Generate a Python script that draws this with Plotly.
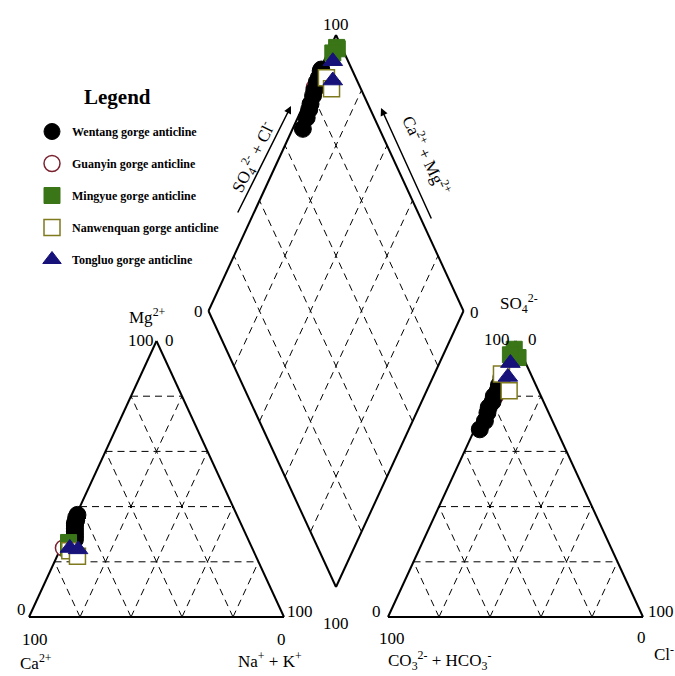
import plotly.graph_objects as go

# ---------------- data (% meq/L) ----------------
series_names = ["Wentang gorge anticline", "Guanyin gorge anticline", "Mingyue gorge anticline",
                "Nanwenquan gorge anticline", "Tongluo gorge anticline"]

# cations: Na+ + K+ and Mg2+ (Ca2+ = remainder)
wentang_nak = [0.5, 0.5, 1.0, 1.0, 1.5, 2.0, 2.5, 3.0, 3.5, 4.0]
wentang_mg = [37.0, 36.0, 35.0, 34.0, 33.0, 32.0, 31.0, 30.0, 29.0, 28.0]
guanyin_nak = [1.0]
guanyin_mg = [25.0]
mingyue_nak = [2.5, 3.0, 2.0]
mingyue_mg = [26.0, 25.0, 27.0]
nanwenquan_nak = [4.0, 8.0]
nanwenquan_mg = [24.0, 22.0]
tongluo_nak = [3.5, 7.0]
tongluo_mg = [25.0, 24.5]

# anions: SO4 2- and Cl- (CO3 2- + HCO3- = remainder)
wentang_so4 = [87.0, 86.0, 84.0, 82.0, 80.0, 78.0, 76.0, 74.0, 71.0, 68.0]
wentang_cl = [1.0, 1.5, 1.5, 2.0, 1.5, 2.0, 1.5, 2.0, 2.5, 2.0]
guanyin_so4 = [80.0]
guanyin_cl = [2.0]
mingyue_so4 = [97.0, 94.0, 95.0]
mingyue_cl = [1.0, 4.0, 0.5]
nanwenquan_so4 = [88.0, 82.0]
nanwenquan_cl = [0.5, 6.5]
tongluo_so4 = [92.0, 87.0]
tongluo_cl = [2.0, 3.5]

# ---------------- geometry (pixel-like data units) ----------------
BASE_Y = 617
H = 276
SIDE = 255
CAT_X0 = 29
AN_X0 = 388
DIA_B = (336, 587)
FONT = "Liberation Serif"


def tri_pt(x0, p_right, p_top):
    return x0 + SIDE * (p_right + p_top / 2.0), BASE_Y - H * p_top


def dia_pt(cm, s):
    return (DIA_B[0] - cm * SIDE / 2.0 + s * SIDE / 2.0,
            DIA_B[1] - cm * H - s * H)


def piper_xy(nak, mg, so4, cl):
    xs, ys = [], []
    for n, m in zip(nak, mg):
        x, y = tri_pt(CAT_X0, n / 100.0, m / 100.0)
        xs.append(x); ys.append(y)
    for s, c in zip(so4, cl):
        x, y = tri_pt(AN_X0, c / 100.0, s / 100.0)
        xs.append(x); ys.append(y)
    for n, s, c in zip(nak, so4, cl):
        x, y = dia_pt(1 - n / 100.0, (s + c) / 100.0)
        xs.append(x); ys.append(y)
    return xs, ys


fig = go.Figure()

styles = [
    dict(symbol="circle", size=17, color="black", line=dict(color="black", width=1)),
    dict(symbol="circle", size=16, color="white", line=dict(color="#7a2230", width=1.5)),
    dict(symbol="square", size=16, color="#3a7517", line=dict(color="#3a7517", width=1)),
    dict(symbol="square", size=16, color="white", line=dict(color="#7f7a1e", width=1.5)),
    dict(symbol="triangle-up", size=17, color="#16127a", line=dict(color="#16127a", width=1)),
]
datasets = [
    (wentang_nak, wentang_mg, wentang_so4, wentang_cl),
    (guanyin_nak, guanyin_mg, guanyin_so4, guanyin_cl),
    (mingyue_nak, mingyue_mg, mingyue_so4, mingyue_cl),
    (nanwenquan_nak, nanwenquan_mg, nanwenquan_so4, nanwenquan_cl),
    (tongluo_nak, tongluo_mg, tongluo_so4, tongluo_cl),
]
# drawing order (Guanyin lies underneath Wentang); legend order kept by legendrank
draw_order = [1, 0, 2, 3, 4]
for i in draw_order:
    name, st, d = series_names[i], styles[i], datasets[i]
    xs, ys = piper_xy(*d)
    fig.add_trace(go.Scatter(x=xs, y=ys, mode="markers", name=name, marker=st,
                             legendgroup=name, legendrank=100 + i, hoverinfo="skip"))

# ---------------- frame & grid ----------------
shapes = []


def seg(p, q, dash=None, width=2):
    line = dict(color="black", width=width)
    if dash:
        line["dash"] = dash
    shapes.append(dict(type="line", xref="x", yref="y", x0=p[0], y0=p[1], x1=q[0], y1=q[1],
                       line=line, layer="below"))


DASH = "7px,5px"
for x0 in (CAT_X0, AN_X0):
    for f in (0.2, 0.4, 0.6, 0.8):
        seg(tri_pt(x0, 0, f), tri_pt(x0, 1 - f, f), DASH, 1)
        seg(tri_pt(x0, f, 0), tri_pt(x0, f, 1 - f), DASH, 1)
        seg(tri_pt(x0, 1 - f, 0), tri_pt(x0, 0, 1 - f), DASH, 1)
    a, b, c = tri_pt(x0, 0, 0), tri_pt(x0, 1, 0), tri_pt(x0, 0, 1)
    seg(a, b); seg(b, c); seg(c, a)

for f in (0.2, 0.4, 0.6, 0.8):
    seg(dia_pt(f, 0), dia_pt(f, 1), DASH, 1)
    seg(dia_pt(0, f), dia_pt(1, f), DASH, 1)
pb, pl, pt, pr = dia_pt(0, 0), dia_pt(1, 0), dia_pt(1, 1), dia_pt(0, 1)
seg(pb, pl); seg(pl, pt); seg(pt, pr); seg(pr, pb)

# ---------------- labels ----------------
ann = []


def label(text, x, y, size=17, angle=0, bold=False):
    ann.append(dict(text=text, x=x, y=y, xref="x", yref="y", showarrow=False,
                    textangle=angle, xanchor="center", yanchor="middle",
                    font=dict(family=FONT, size=size, color="black",
                              weight="bold" if bold else "normal")))


label("Legend", 117, 97, 21, bold=True)
# cation triangle
label("Mg<sup>2+</sup>", 147, 316)
label("100", 141, 340)
label("0", 169, 340)
label("0", 21, 609)
label("100", 300, 611)
label("100", 35, 639)
label("Ca<sup>2+</sup>", 36, 662)
label("0", 281, 639)
label("Na<sup>+</sup> + K<sup>+</sup>", 270, 660)
# anion triangle
label("SO<sub>4</sub><sup>2-</sup>", 519, 303)
label("100", 497, 339)
label("0", 532, 339)
label("0", 376, 611)
label("100", 661, 611)
label("100", 392, 638)
label("0", 641, 637)
label("CO<sub>3</sub><sup>2-</sup> + HCO<sub>3</sub><sup>-</sup>", 439, 660)
label("Cl<sup>-</sup>", 664, 653)
# diamond
label("100", 336, 24)
label("0", 198, 311)
label("0", 474, 312)
label("100", 336, 623)
label("SO<sub>4</sub><sup>2-</sup> + Cl<sup>-</sup>", 253, 157, 17, -64)
label("Ca<sup>2+</sup> + Mg<sup>2+</sup>", 427, 155, 17, 64)

# arrows
for (tx, ty), (hx, hy) in (((237, 214), (291, 106)), ((432, 220), (381, 108))):
    ann.append(dict(x=hx, y=hy, ax=tx, ay=ty, xref="x", yref="y", axref="x", ayref="y",
                    text="", showarrow=True, arrowhead=2, arrowsize=1, arrowwidth=1.5,
                    arrowcolor="black"))

fig.update_layout(
    width=675, height=676,
    margin=dict(l=0, r=0, t=0, b=0),
    paper_bgcolor="white", plot_bgcolor="white",
    xaxis=dict(range=[0, 675], visible=False, fixedrange=True),
    yaxis=dict(range=[676, 0], visible=False, fixedrange=True),
    shapes=shapes, annotations=ann,
    showlegend=True,
    legend=dict(x=32 / 675, y=1 - 117 / 676, xanchor="left", yanchor="top",
                bgcolor="rgba(0,0,0,0)", traceorder="grouped", tracegroupgap=13,
                font=dict(family=FONT, size=12, color="black", weight="bold")),
)

fig.write_html("out.html", config={"displayModeBar": False},
               post_script="document.body.style.margin='0';")
